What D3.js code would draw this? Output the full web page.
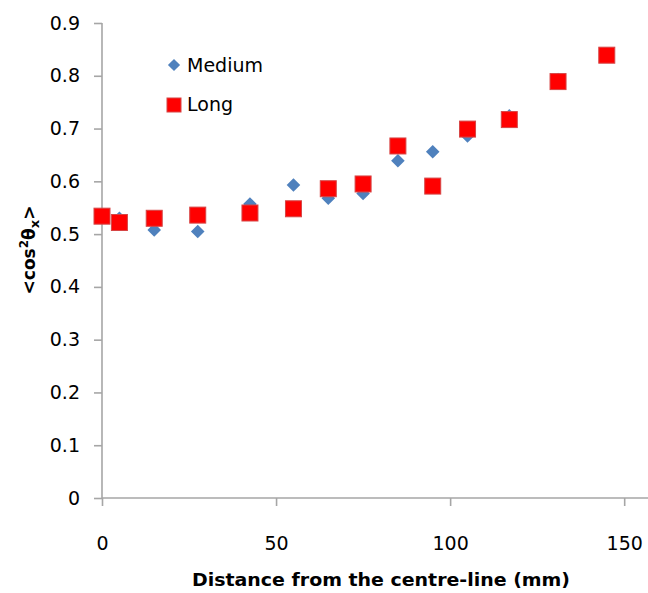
<!DOCTYPE html>
<html>
<head>
<meta charset="utf-8">
<script src="https://cdn.jsdelivr.net/npm/d3@7"></script>
<style>
  html, body { margin: 0; padding: 0; background: #fff; }
  svg { display: block; }
</style>
</head>
<body>
<svg id="chart" width="648" height="593"></svg>
<script>
// ---- data ----
const distances = [0, 5, 15, 27.5, 42.5, 55, 65, 75, 85, 95, 105, 117, 131, 145];
const mediumValues = [null, 0.53, 0.508, 0.505, 0.557, 0.593, 0.568, 0.577, 0.639, 0.656, 0.686, 0.724, 0.793, 0.837];
const longValues   = [0.534, 0.522, 0.530, 0.536, 0.540, 0.548, 0.586, 0.595, 0.667, 0.591, 0.699, 0.717, 0.789, 0.839];
const xTicks = [0, 50, 100, 150];
const yTicks = [0, 0.1, 0.2, 0.3, 0.4, 0.5, 0.6, 0.7, 0.8, 0.9];
const seriesNames = ["Medium", "Long"];

const svg = d3.select("#chart");
const axisColor = "#a6a6a6";
const tickFont = "'DejaVu Sans', Verdana, sans-serif";

const x = d3.scaleLinear().domain([0, 160]).range([102, 659]);
const y = d3.scaleLinear().domain([0, 0.9]).range([498, 23]);

// y axis
const yAxis = svg.append("g").attr("transform", `translate(${x(0)},0)`)
  .call(d3.axisLeft(y).tickValues(yTicks).tickSize(8).tickPadding(14)
    .tickFormat(d => d === 0 ? "0" : d3.format(".1f")(d)));
yAxis.select(".domain").attr("stroke", axisColor).attr("stroke-width", 1.6).attr("d", `M0,${y(0.9)}V${y(0)}`);
yAxis.selectAll(".tick line").attr("stroke", axisColor).attr("stroke-width", 1.6);
yAxis.selectAll(".tick text").attr("font-family", tickFont).attr("font-size", 19).attr("fill", "#000");

// x axis
const xAxis = svg.append("g").attr("transform", `translate(0,${y(0)})`)
  .call(d3.axisBottom(x).tickValues(xTicks).tickSize(8).tickPadding(31).tickFormat(d3.format("d")));
xAxis.select(".domain").attr("stroke", axisColor).attr("stroke-width", 1.6).attr("d", `M${x(0)},0H648`);
xAxis.selectAll(".tick line").attr("stroke", axisColor).attr("stroke-width", 1.6);
xAxis.selectAll(".tick text").attr("font-family", tickFont).attr("font-size", 19).attr("fill", "#000");

// series
const medium = distances.map((d, i) => ({x: d, y: mediumValues[i]})).filter(d => d.y != null);
const long = distances.map((d, i) => ({x: d, y: longValues[i]}));

const diamond = d3.symbol().type(d3.symbolDiamond2).size(118);
svg.append("g").selectAll("path").data(medium).join("path")
  .attr("d", diamond)
  .attr("transform", d => `translate(${x(d.x)},${y(d.y)})`)
  .attr("fill", "#4f81bd");

const sq = 16;
svg.append("g").selectAll("rect").data(long).join("rect")
  .attr("x", d => x(d.x) - sq / 2)
  .attr("y", d => y(d.y) - sq / 2)
  .attr("width", sq).attr("height", sq)
  .attr("fill", "#ff0000")
  .attr("stroke", "#d64545").attr("stroke-width", 1);

// legend
const legendFont = "'DejaVu Sans', sans-serif";
const lg = svg.append("g");
lg.append("path").attr("d", d3.symbol().type(d3.symbolDiamond2).size(95)())
  .attr("transform", "translate(174,65)").attr("fill", "#4f81bd");
lg.append("text").attr("x", 187).attr("y", 72).text(seriesNames[0])
  .attr("font-family", legendFont).attr("font-size", 19).attr("fill", "#000");
lg.append("rect").attr("x", 167).attr("y", 98).attr("width", 14).attr("height", 14)
  .attr("fill", "#ff0000").attr("stroke", "#d64545");
lg.append("text").attr("x", 187).attr("y", 111).text(seriesNames[1])
  .attr("font-family", legendFont).attr("font-size", 19).attr("fill", "#000");

// x title
svg.append("text").attr("x", 381).attr("y", 586).attr("text-anchor", "middle")
  .attr("font-family", legendFont).attr("font-weight", "bold").attr("font-size", 17)
  .attr("textLength", 378).attr("lengthAdjust", "spacingAndGlyphs")
  .text("Distance from the centre-line (mm)");

// y title
const yt = svg.append("text").attr("transform", "translate(35,250) rotate(-90)")
  .attr("text-anchor", "middle")
  .attr("font-family", legendFont).attr("font-weight", "bold").attr("font-size", 17);
yt.append("tspan").text("<cos");
yt.append("tspan").attr("dy", -7).attr("font-size", 12).text("2");
yt.append("tspan").attr("dy", 7).text("θ");
yt.append("tspan").attr("dy", 4).attr("font-size", 13).text("x");
yt.append("tspan").attr("dy", -4).text(">");
</script>
</body>
</html>
